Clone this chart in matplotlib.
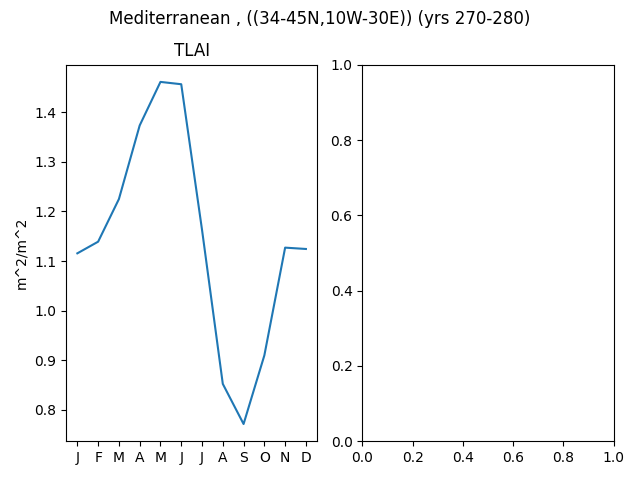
import numpy as np
import matplotlib
matplotlib.use("Agg")
import matplotlib.pyplot as plt

months = ["J", "F", "M", "A", "M", "J", "J", "A", "S", "O", "N", "D"]
tlai = [1.1155, 1.139, 1.225, 1.3736, 1.4615, 1.4568, 1.163, 0.852, 0.771, 0.9095, 1.127, 1.1243]

fig, axes = plt.subplots(1, 2, figsize=(6.4, 4.8), dpi=100)
fig.suptitle("Mediterranean , ((34-45N,10W-30E)) (yrs 270-280)")

ax = axes[0]
x = np.arange(len(months))
ax.plot(x, tlai)
ax.set_xticks(x)
ax.set_xticklabels(months)
ax.set_title("TLAI")
ax.set_ylabel("m^2/m^2")

fig.subplots_adjust(left=0.103, right=0.959, top=0.865, bottom=0.081, wspace=0.179)
fig.savefig("out.png")
